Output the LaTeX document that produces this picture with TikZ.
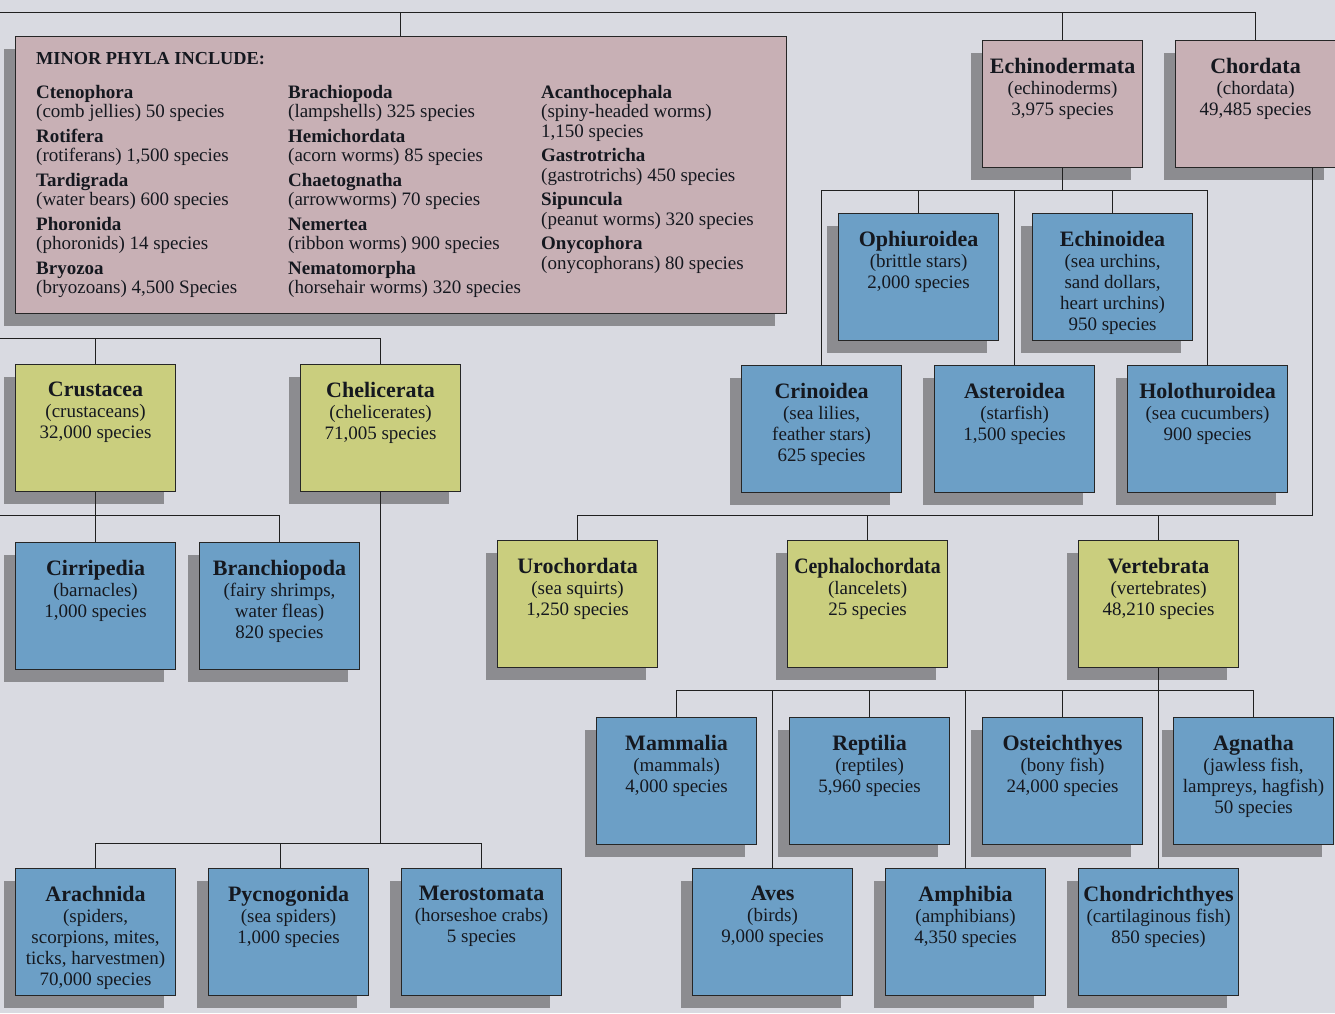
\documentclass[tikz,border=0pt]{standalone}
\usepackage{fontspec}
\usepackage{graphicx}
\setmainfont{Liberation Serif}
\usetikzlibrary{shadows}
\definecolor{bgc}{HTML}{D9DAE1}
\definecolor{boxblue}{HTML}{6C9FC6}
\definecolor{boxyel}{HTML}{CACE7E}
\definecolor{boxpink}{HTML}{C8B0B5}
\definecolor{shadowc}{HTML}{8C8C90}
\definecolor{linec}{HTML}{202020}
\definecolor{textc}{HTML}{15181F}
\tikzset{
  conn/.style={draw=linec, line width=1pt},
  boxbase/.style={draw=black!85, line width=1.1pt, minimum width=160pt, minimum height=127pt,
    inner sep=0pt, anchor=north west,
    drop shadow={shadow xshift=-12pt, shadow yshift=-12pt, fill=shadowc, opacity=1}},
  bluebox/.style={boxbase, fill=boxblue},
  yelbox/.style={boxbase, fill=boxyel},
  pinkbox/.style={boxbase, fill=boxpink},
  lbl/.style={align=center, inner sep=0pt, anchor=north, text=textc, font=\fontsize{19}{21}\selectfont},
  minortxt/.style={align=left, inner sep=0pt, anchor=north west, text=textc, font=\fontsize{19}{19.5}\selectfont},
}
\newcommand\ttl[1]{{\fontsize{22}{22}\selectfont\bfseries #1}}
\newcommand\taxon[6]{%
  \node[#2] (#1) at (#3,#4) {};
  \node[lbl] (#1-t) at ([yshift=-18pt]#1.north) {\ttl{#5}\\#6};
}
\begin{document}
\begin{tikzpicture}[x=1pt,y=-1pt]
\fill[bgc] (0,0) rectangle (1335,1013);
\useasboundingbox (0,0) rectangle (1335,1013);

% connector coordinates
\coordinate (topbar) at (0,12);
\coordinate (lbar1) at (0,338);
\coordinate (lbar2) at (0,515);
\coordinate (pbar) at (0,843);
\coordinate (ebar) at (0,190);
\coordinate (cbar) at (0,515);
\coordinate (vbar) at (0,690);
\coordinate (cstem) at (1312,0);
\coordinate (mstem) at (400,0);
\coordinate (pdrop) at (280,0);

% boxes
\node[pinkbox, minimum width=771pt, minimum height=277pt] (minor) at (15,36) {};
\taxon{crus}{yelbox}{15}{364}{Crustacea}{(crustaceans)\\32,000 species}
\taxon{chel}{yelbox}{300}{364}{Chelicerata}{(chelicerates)\\71,005 species}
\taxon{cirr}{bluebox}{15}{542}{Cirripedia}{(barnacles)\\1,000 species}
\taxon{bran}{bluebox}{199}{542}{Branchiopoda}{(fairy shrimps,\\water fleas)\\820 species}
\taxon{arac}{bluebox}{15}{868}{Arachnida}{(spiders,\\scorpions, mites,\\ticks, harvestmen)\\70,000 species}
\taxon{pycn}{bluebox}{208}{868}{Pycnogonida}{(sea spiders)\\1,000 species}
\taxon{mero}{bluebox}{401}{868}{Merostomata}{(horseshoe crabs)\\5 species}
\taxon{echi}{pinkbox}{982}{40}{Echinodermata}{(echinoderms)\\3,975 species}
\taxon{chor}{pinkbox}{1175}{40}{Chordata}{(chordata)\\49,485 species}
\taxon{ophi}{bluebox}{838}{213}{Ophiuroidea}{(brittle stars)\\2,000 species}
\taxon{echn}{bluebox}{1032}{213}{Echinoidea}{(sea urchins,\\sand dollars,\\heart urchins)\\950 species}
\taxon{crin}{bluebox}{741}{365}{Crinoidea}{(sea lilies,\\feather stars)\\625 species}
\taxon{aste}{bluebox}{934}{365}{Asteroidea}{(starfish)\\1,500 species}
\taxon{holo}{bluebox}{1127}{365}{Holothuroidea}{(sea cucumbers)\\900 species}
\taxon{uro}{yelbox}{497}{540}{Urochordata}{(sea squirts)\\1,250 species}
\taxon{ceph}{yelbox}{787}{540}{\scalebox{0.9}[1]{Cephalochordata}}{(lancelets)\\25 species}
\taxon{vert}{yelbox}{1078}{540}{Vertebrata}{(vertebrates)\\48,210 species}
\taxon{mamm}{bluebox}{596}{717}{Mammalia}{(mammals)\\4,000 species}
\taxon{rept}{bluebox}{789}{717}{Reptilia}{(reptiles)\\5,960 species}
\taxon{oste}{bluebox}{982}{717}{Osteichthyes}{(bony fish)\\24,000 species}
\taxon{agna}{bluebox}{1173}{717}{Agnatha}{(jawless fish,\\lampreys, hagfish)\\50 species}
\taxon{aves}{bluebox}{692}{868}{Aves}{(birds)\\9,000 species}
\taxon{amph}{bluebox}{885}{868}{Amphibia}{(amphibians)\\4,350 species}
\taxon{chon}{bluebox}{1078}{868}{Chondrichthyes}{(cartilaginous fish)\\850 species)}

% minor phyla text
\node[text=textc, inner sep=0pt, anchor=base west, font=\fontsize{18.3}{19}\selectfont\bfseries] (mhead) at (36,64) {MINOR PHYLA INCLUDE:};
\node[minortxt] (mcol1) at (36,85) {\textbf{Ctenophora}\\(comb jellies) 50 species\\[5pt]
\textbf{Rotifera}\\(rotiferans) 1,500 species\\[5pt]
\textbf{Tardigrada}\\(water bears) 600 species\\[5pt]
\textbf{Phoronida}\\(phoronids) 14 species\\[5pt]
\textbf{Bryozoa}\\(bryozoans) 4,500 Species};
\node[minortxt] (mcol2) at (288,85) {\textbf{Brachiopoda}\\(lampshells) 325 species\\[5pt]
\textbf{Hemichordata}\\(acorn worms) 85 species\\[5pt]
\textbf{Chaetognatha}\\(arrowworms) 70 species\\[5pt]
\textbf{Nemertea}\\(ribbon worms) 900 species\\[5pt]
\textbf{Nematomorpha}\\(horsehair worms) 320 species};
\node[minortxt] (mcol3) at (541,85) {\textbf{Acanthocephala}\\(spiny-headed worms)\\1,150 species\\[5pt]
\textbf{Gastrotricha}\\(gastrotrichs) 450 species\\[5pt]
\textbf{Sipuncula}\\(peanut worms) 320 species\\[5pt]
\textbf{Onycophora}\\(onycophorans) 80 species};

% connectors
\draw[conn] (topbar) -- (chor.north |- topbar) -- (chor.north);
\draw[conn] (mstem |- topbar) -- (mstem |- minor.north);
\draw[conn] (echi.north |- topbar) -- (echi.north);
\draw[conn] (lbar1) -- (chel.north |- lbar1) -- (chel.north);
\draw[conn] (crus.north |- lbar1) -- (crus.north);
\draw[conn] (lbar2) -- (bran.north |- lbar2) -- (bran.north);
\draw[conn] (crus.south) -- (cirr.north);
\draw[conn] (chel.south) -- (chel.south |- pbar);
\draw[conn] (arac.north) |- (mero.north |- pbar) -- (mero.north);
\draw[conn] (pdrop |- pbar) -- (pdrop |- pycn.north);
\draw[conn] (echi.south) -- (echi.south |- ebar);
\draw[conn] (crin.north) |- (holo.north |- ebar) -- (holo.north);
\draw[conn] (ophi.north) -- (ophi.north |- ebar);
\draw[conn] (echn.north) -- (echn.north |- ebar);
\draw[conn] (aste.north) -- (aste.north |- ebar);
\draw[conn] (cstem |- chor.south) -- (cstem |- cbar) -- (uro.north |- cbar) -- (uro.north);
\draw[conn] (ceph.north) -- (ceph.north |- cbar);
\draw[conn] (vert.north) -- (vert.north |- cbar);
\draw[conn] (vert.south) -- (vert.south |- vbar);
\draw[conn] (mamm.north) |- (agna.north |- vbar) -- (agna.north);
\draw[conn] (aves.north) -- (aves.north |- vbar);
\draw[conn] (rept.north) -- (rept.north |- vbar);
\draw[conn] (amph.north) -- (amph.north |- vbar);
\draw[conn] (oste.north) -- (oste.north |- vbar);
\draw[conn] (chon.north) -- (chon.north |- vbar);
\end{tikzpicture}
\end{document}
